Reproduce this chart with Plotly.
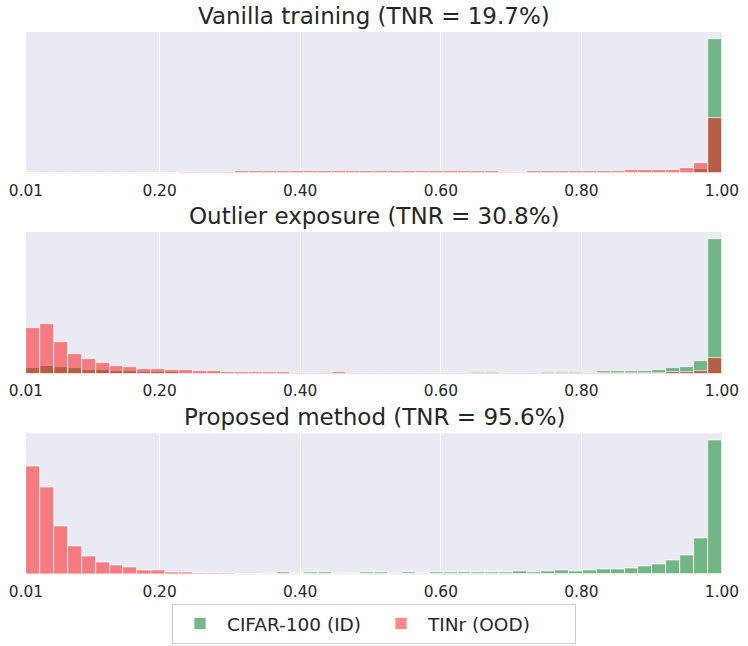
import numpy as np
import plotly.graph_objects as go
from plotly.subplots import make_subplots

# ---------------- data (bin heights, 50 bins from 0.01 to 1.00) ----------------
bin_lo, bin_hi, n_bins = 0.01, 1.00, 50

titles = ["Vanilla training (TNR = 19.7%)",
          "Outlier exposure (TNR = 30.8%)",
          "Proposed method (TNR = 95.6%)"]

id_label = "CIFAR-100 (ID)"
ood_label = "TINr (OOD)"

tick_vals = [0.01, 0.20, 0.40, 0.60, 0.80, 1.00]
tick_text = ["0.01", "0.20", "0.40", "0.60", "0.80", "1.00"]

vanilla_id = [0, 0, 0, 0, 0, 0, 0, 0, 0, 0,
              0, 0, 0, 0, 0, 0, 0, 0, 0, 0,
              0, 0, 0, 0, 0, 0, 0, 0, 0, 0,
              0, 0, 0, 0, 0, 0, 0, 0, 0, 0,
              0.5, 0.5, 1, 1, 1.5, 2, 3, 5, 12, 405]
vanilla_ood = [0, 0, 0, 0, 0, 0, 0.5, 0.5, 1, 1.5,
               2, 3, 4, 5, 5, 6, 6, 6, 6, 6,
               6, 6, 6, 6, 6, 7, 6, 6, 6, 6,
               6, 6, 6, 6, 5, 5, 6, 6, 6, 6,
               6, 7, 8, 9, 9, 10, 11, 17, 30, 167]

oe_id = [19, 25, 21, 18, 12, 11, 10, 9, 6, 6,
         5, 4, 3, 3, 2, 2, 2, 2, 2, 2,
         2, 2, 2, 3, 3, 3, 3, 3, 3, 3,
         3, 3, 5, 6, 3, 3, 3, 5, 5, 7,
         4, 9, 10, 10, 10, 12, 17, 20, 39, 403]
oe_ood = [137, 150, 95, 59, 45, 33, 25, 21, 16, 15,
          13, 12, 9, 8, 7, 7, 7, 6, 5, 4,
          4, 4, 5, 4, 4, 4, 4, 4, 4, 3,
          3, 3, 2, 2, 2, 2, 3, 2, 2, 2,
          2, 3, 4, 4, 4, 4, 5, 7, 9, 49]

prop_id = [0, 0, 0, 0, 0, 0, 0, 0, 0, 0,
           0, 0, 0, 0, 1, 2, 1, 3, 7, 4,
           6, 7, 5, 4, 8, 7, 5, 7, 5, 7,
           7, 6, 7, 7, 7, 10, 8, 10, 12, 10,
           14, 15, 17, 18, 24, 32, 42, 58, 110, 406]
prop_ood = [326, 262, 146, 86, 56, 37, 29, 21, 12, 12,
            7, 6, 4, 3, 3, 2, 2, 2, 2, 1,
            0, 0, 0, 0, 0, 0, 0, 0, 0, 0,
            0, 0, 0, 0, 0, 0, 0, 0, 0, 0,
            0, 0, 0, 0, 0, 0, 0, 0, 0, 0]

panels = [(vanilla_id, vanilla_ood), (oe_id, oe_ood), (prop_id, prop_ood)]

# ---------------- figure ----------------
edges = np.linspace(bin_lo, bin_hi, n_bins + 1)
centers = (edges[:-1] + edges[1:]) / 2
width = edges[1] - edges[0]

GREEN = "rgba(85,168,104,0.8)"
RED = "rgba(255,0,0,0.47)"
TXT = "#262626"
FONT = "DejaVu Sans"

fig = make_subplots(rows=3, cols=1)

for i, (ids, oods) in enumerate(panels, start=1):
    fig.add_trace(go.Bar(x=centers, y=ids, width=width, name=id_label,
                         marker=dict(color=GREEN, line=dict(color="white", width=0.7)),
                         showlegend=(i == 1), legendgroup="id"), row=i, col=1)
    fig.add_trace(go.Bar(x=centers, y=oods, width=width, name=ood_label,
                         marker=dict(color=RED, line=dict(color="white", width=0.7)),
                         showlegend=(i == 1), legendgroup="ood"), row=i, col=1)

W, H = 748, 646
px_domains = [(32, 173.3), (232, 374), (433.3, 574.5)]
for i, (top, bot) in enumerate(px_domains, start=1):
    dom = [1 - bot / H, 1 - top / H]
    ids, oods = panels[i - 1]
    ymax = max(max(ids), max(oods)) * 1.05
    xa = "xaxis" if i == 1 else f"xaxis{i}"
    ya = "yaxis" if i == 1 else f"yaxis{i}"
    fig.layout[ya].update(domain=dom, range=[0, ymax], showgrid=False, zeroline=False,
                          showticklabels=False, ticks="", showline=False)
    fig.layout[xa].update(range=[bin_lo, bin_hi], tickvals=tick_vals, ticktext=tick_text,
                          showgrid=True, gridcolor="white", gridwidth=1.2, zeroline=False,
                          showline=False, ticks="outside", ticklen=3, tickcolor="rgba(0,0,0,0)",
                          tickfont=dict(family=FONT, size=15.4, color=TXT))
    fig.add_annotation(text=titles[i - 1], xref="paper", yref="paper",
                       x=0.5, y=dom[1], xanchor="center", yanchor="bottom", yshift=1,
                       showarrow=False, font=dict(family=FONT, size=23, color=TXT))

fig.update_layout(
    width=W, height=H,
    margin=dict(l=26, r=26, t=0, b=0),
    paper_bgcolor="white", plot_bgcolor="#eaeaf2",
    barmode="overlay", bargap=0,
    font=dict(family=FONT, color=TXT),
    legend=dict(orientation="h", x=0.5, xanchor="center", y=1 - 604 / H, yanchor="top",
                bgcolor="white", bordercolor="#cccccc", borderwidth=1,
                font=dict(family=FONT, size=18.5, color=TXT), traceorder="normal",
                itemwidth=44, entrywidth=142),
)

fig.write_html("out.html", config={"displayModeBar": False},
               post_script="document.body.style.margin='0';")
